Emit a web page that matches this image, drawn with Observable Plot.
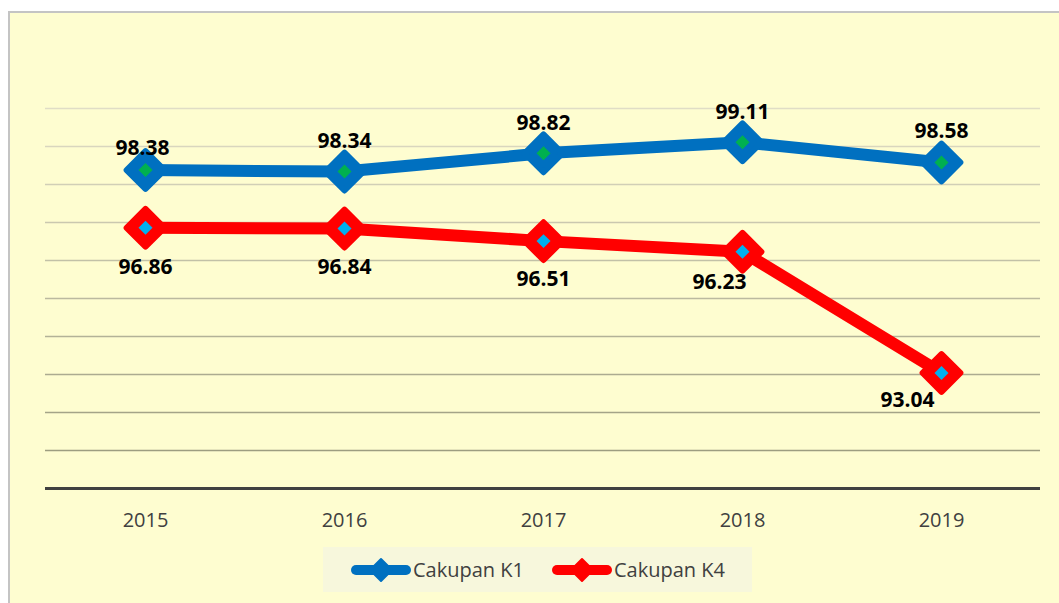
<!DOCTYPE html>
<html>
<head>
<meta charset="utf-8">
<script src="https://cdn.jsdelivr.net/npm/d3@7"></script>
<script src="https://cdn.jsdelivr.net/npm/@observablehq/plot@0.6"></script>
<style>
  html, body { margin: 0; padding: 0; background: #ffffff; overflow: hidden; }
  #frame {
    position: absolute; left: 8px; top: 11px; width: 1060px; height: 600px;
    background: #FEFDD0; border-left: 2px solid #c4c4c4; border-top: 2px solid #c4c4c4;
  }
  #legend {
    position: absolute; left: 313px; top: 534px; width: 429px; height: 45px;
    background: #F7F7DC; display: flex; align-items: center;
    font-family: "Open Sans", sans-serif; font-size: 20px; color: #404040;
  }
  .item { display: flex; align-items: center; }
  .item svg { display: block; }
</style>
</head>
<body>
<div id="frame"><div id="chart"></div><div id="legend"></div></div>
<script>
const years = ["2015", "2016", "2017", "2018", "2019"];
const k1 = [98.38, 98.34, 98.82, 99.11, 98.58];
const k4 = [96.86, 96.84, 96.51, 96.23, 93.04];
const seriesNames = ["Cakupan K1", "Cakupan K4"];
const gridTicks = [91, 92, 93, 94, 95, 96, 97, 98, 99, 100];

const rows = [];
years.forEach((y, i) => rows.push({year: y, value: k1[i], series: seriesNames[0], i}));
years.forEach((y, i) => rows.push({year: y, value: k4[i], series: seriesNames[1], i}));

const lineColor = {"Cakupan K1": "#0070C0", "Cakupan K4": "#FF0000"};
const innerColor = {"Cakupan K1": "#00B050", "Cakupan K4": "#00B0F0"};
// manual label placement as in the original chart
const labelOffsets = {
  "Cakupan K1": [[-3, -22], [0, -30], [0, -30], [0, -30], [0, -31]],
  "Cakupan K4": [[0, 39], [0, 39], [0, 38], [-23, 31], [-34, 27]]
};

const gridColor = d3.interpolateRgb("#e0ddc6", "#9d9d80");

const labelMarks = rows.map(r => Plot.text([r], {
  x: "year", y: "value", text: d => d.value.toFixed(2),
  dx: labelOffsets[r.series][r.i][0], dy: labelOffsets[r.series][r.i][1],
  fontSize: 21, fontWeight: "bold", fill: "#000000"
}));

const plot = Plot.plot({
  width: 1049,
  height: 530,
  marginLeft: 35,
  marginRight: 19,
  marginTop: 95,
  marginBottom: 55,
  style: {background: "transparent", fontFamily: "'Open Sans', sans-serif"},
  x: {type: "point", domain: years, padding: 0.5, axis: null},
  y: {domain: [90, 100], axis: null},
  marks: [
    Plot.ruleY(gridTicks, {stroke: d => gridColor((100 - d) / 9), strokeWidth: 1.5}),
    Plot.ruleY([90], {stroke: "#404040", strokeWidth: 3}),
    Plot.axisX({tickSize: 0, tickPadding: 24, fontSize: 20, color: "#404040", fill: "#404040", label: null}),
    Plot.line(rows, {x: "year", y: "value", z: "series", stroke: d => lineColor[d.series],
      strokeWidth: 12, strokeLinejoin: "round", strokeLinecap: "round"}),
    Plot.dot(rows, {x: "year", y: "value", symbol: "diamond2", r: 17,
      fill: d => lineColor[d.series], stroke: d => lineColor[d.series],
      strokeWidth: 6, strokeLinejoin: "round"}),
    Plot.dot(rows, {x: "year", y: "value", symbol: "diamond2", r: 6.3,
      fill: d => innerColor[d.series], stroke: "none"}),
    ...labelMarks
  ]
});
document.getElementById("chart").appendChild(plot);

const legend = document.getElementById("legend");
seriesNames.forEach((name, k) => {
  const item = document.createElement("div");
  item.className = "item";
  item.style.marginLeft = "28px";
  const c = lineColor[name];
  item.innerHTML = `<svg width="60" height="26" viewBox="0 0 60 26">
    <line x1="5" y1="13" x2="55" y2="13" stroke="${c}" stroke-width="10" stroke-linecap="round"/>
    <path d="M30 2 L41 13 L30 24 L19 13 Z" fill="${c}" stroke="${c}" stroke-width="2" stroke-linejoin="round"/>
  </svg><span style="margin-left:2px">${name}</span>`;
  legend.appendChild(item);
});
</script>
</body>
</html>
